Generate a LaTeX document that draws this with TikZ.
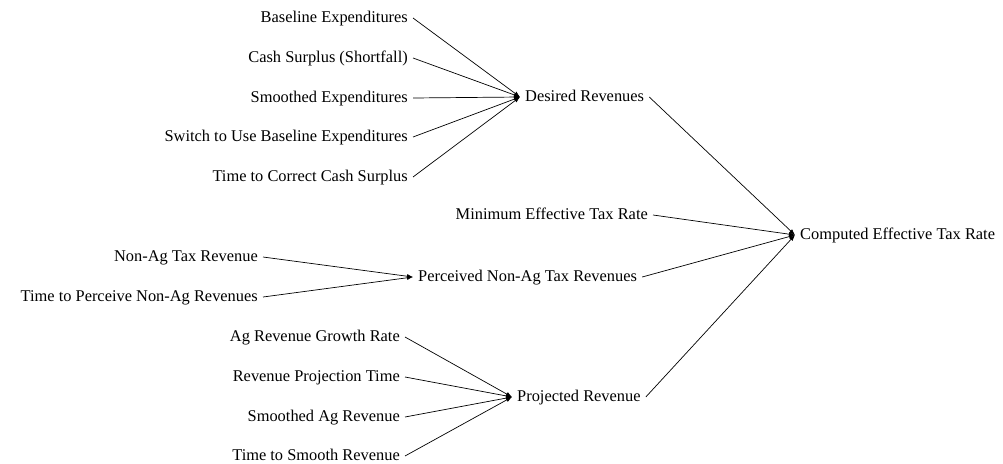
\documentclass[tikz,border=0pt]{standalone}
\usepackage{fontspec}
\setmainfont{Liberation Serif}
\usetikzlibrary{arrows.meta}

\begin{document}
\begin{tikzpicture}[x=1pt, y=-1pt,
    % Define the style for the variable names
    var/.style={inner xsep=5pt, inner ysep=1pt, font=\fontsize{16.4}{19}\selectfont,
        text height=11.5pt, text depth=3.5pt},
    % Define the style for the causal links
    link/.style={line width=0.7pt, -{Latex[length=6pt,width=4.5pt]}}
]

% Fix the page size
\useasboundingbox (0,0) rectangle (1003,463);

% Causes of the desired revenues
\node[var, anchor=east] (baseexp) at (413,18) {Baseline Expenditures};
\node[var, anchor=east] (cashsurp) at (413,58) {Cash Surplus (Shortfall)};
\node[var, anchor=east] (smoothexp) at (413,98) {Smoothed Expenditures};
\node[var, anchor=east] (switchbase) at (413,137) {Switch to Use Baseline Expenditures};
\node[var, anchor=east] (timecorrect) at (413,177) {Time to Correct Cash Surplus};
\node[var, anchor=west] (desrev) at (520,97) {Desired Revenues};

% Causes of the perceived non-ag revenues
\node[var, anchor=east] (nonagrev) at (263,257) {Non-Ag Tax Revenue};
\node[var, anchor=east] (timeperc) at (263,297) {Time to Perceive Non-Ag Revenues};
\node[var, anchor=west] (percrev) at (413,277) {Perceived Non-Ag Tax Revenues};

% Causes of the projected revenue
\node[var, anchor=east] (aggrowth) at (405,337) {Ag Revenue Growth Rate};
\node[var, anchor=east] (projtime) at (405,377) {Revenue Projection Time};
\node[var, anchor=east] (smoothag) at (405,417) {Smoothed Ag Revenue};
\node[var, anchor=east] (timesmooth) at (405,456) {Time to Smooth Revenue};
\node[var, anchor=west] (projrev) at (512,397) {Projected Revenue};

% The computed tax rate
\node[var, anchor=east] (minrate) at (653,215) {Minimum Effective Tax Rate};
\node[var, anchor=west] (comprate) at (795,235) {Computed Effective Tax Rate};

% Draw the links
\draw[link] (baseexp.east) -- (desrev.west);
\draw[link] (cashsurp.east) -- (desrev.west);
\draw[link] (smoothexp.east) -- (desrev.west);
\draw[link] (switchbase.east) -- (desrev.west);
\draw[link] (timecorrect.east) -- (desrev.west);

\draw[link] (nonagrev.east) -- (percrev.west);
\draw[link] (timeperc.east) -- (percrev.west);

\draw[link] (aggrowth.east) -- (projrev.west);
\draw[link] (projtime.east) -- (projrev.west);
\draw[link] (smoothag.east) -- (projrev.west);
\draw[link] (timesmooth.east) -- (projrev.west);

\draw[link] (desrev.east) -- (comprate.west);
\draw[link] (minrate.east) -- (comprate.west);
\draw[link] (percrev.east) -- (comprate.west);
\draw[link] (projrev.east) -- (comprate.west);

\end{tikzpicture}
\end{document}
